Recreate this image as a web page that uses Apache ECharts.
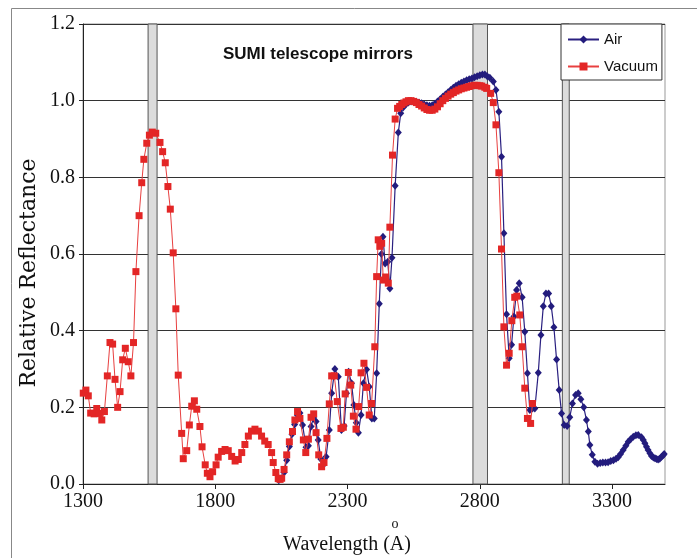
<!DOCTYPE html>
<html>
<head>
<meta charset="utf-8">
<script src="https://cdn.jsdelivr.net/npm/echarts@6/dist/echarts.min.js"></script>
<style>html,body{margin:0;padding:0;background:#fff;}#chart{width:697px;height:558px;}</style>
</head>
<body>
<div id="chart"></div>
<script>
// ---- data ----
var xTicks = [1300, 1800, 2300, 2800, 3300];
var yTicks = [0, 0.2, 0.4, 0.6, 0.8, 1.0, 1.2];
var bandStart = [1546, 2774, 3112];
var bandEnd = [1580, 2829, 3138];

var vacuumWave = [1301,1311,1320,1329,1342,1352,1362,1371,1381,1392,1402,1412,1421,1431,1440,1450,1460,1471,1481,1491,
1500,1512,1522,1530,1541,1551,1562,1575,1591,1601,1611,1621,1630,1641,1651,1660,1673,1679,1692,1702,1711,1721,1730,1742,1750,
1762,1770,1780,1790,1803,1811,1824,1837,1849,1862,1875,1887,1900,1912,1925,1937,1950,1963,1975,1987,2000,2013,2019,2029,2038,
2045,2051,2060,2070,2080,2092,2101,2111,2120,2133,2142,2152,2162,2172,2181,2191,2202,2211,2222,2231,2240,2250,2261,2275,2284,
2291,2303,2312,2322,2332,2342,2351,2362,2372,2382,2391,2403,2410,2416,2422,2429,2435,2444,2454,2460,2470,2480,2489,2497,2505,
2513,2521,2530,2540,2550,2560,2570,2580,2590,2600,2610,2620,2630,2640,2650,2660,2670,2680,2690,2700,2710,2720,2730,2740,2750,
2760,2770,2780,2790,2800,2807,2819,2826,2841,2851,2861,2872,2882,2891,2901,2911,2921,2932,2940,2951,2960,2970,2980,2992,2999];
var vacuumRefl = [0.237,0.245,0.23,0.185,0.183,0.197,0.184,0.167,0.189,0.282,0.369,0.365,0.273,0.2,0.241,0.324,0.354,0.319,0.282,0.369,
0.554,0.70,0.786,0.847,0.889,0.91,0.918,0.915,0.891,0.867,0.838,0.776,0.717,0.603,0.457,0.284,0.132,0.066,0.087,0.154,0.203,0.217,0.195,0.15,0.097,
0.05,0.028,0.019,0.032,0.05,0.07,0.085,0.09,0.087,0.072,0.06,0.064,0.082,0.103,0.125,0.138,0.143,0.138,0.125,0.112,0.103,0.082,0.056,0.03,0.014,
0.012,0.015,0.038,0.076,0.11,0.137,0.167,0.189,0.171,0.115,0.082,0.117,0.174,0.183,0.134,0.076,0.045,0.056,0.119,0.209,0.282,0.282,0.215,0.145,0.148,
0.235,0.291,0.258,0.177,0.143,0.202,0.29,0.315,0.252,0.18,0.21,0.358,0.541,0.637,0.62,0.628,0.532,0.54,0.524,0.67,0.858,0.952,0.98,0.985,0.99,
0.994,0.997,1.0,1.0,0.998,0.995,0.99,0.986,0.981,0.977,0.975,0.975,0.978,0.984,0.992,1.0,1.006,1.012,1.017,1.021,1.025,1.028,1.031,1.033,1.035,
1.037,1.039,1.04,1.04,1.039,1.038,1.035,1.032,1.019,0.995,0.937,0.812,0.613,0.41,0.31,0.341,0.426,0.487,0.49,0.441,0.358,0.25,0.171,0.158,0.21];

var airWave = [2040,2050,2060,2070,2080,2090,2100,2110,2120,2130,2143,2152,2162,2172,2181,2189,2199,2209,2219,2231,
2240,2252,2265,2277,2287,2296,2304,2315,2324,2333,2341,2351,2360,2372,2382,2392,2401,2410,2420,2428,2434,2442,2452,2460,2468,
2480,2492,2501,2510,2520,2530,2540,2550,2560,2570,2580,2590,2600,2610,2620,2630,2640,2650,2660,2670,2680,2690,2700,2710,2720,
2730,2740,2750,2760,2770,2780,2790,2800,2810,2819,2828,2838,2851,2861,2872,2882,2891,2901,2911,2920,2929,2939,2949,2960,2970,
2980,2989,2999,3008,3021,3031,3040,3050,3060,3070,3080,3090,3100,3109,3119,3130,3140,3150,3162,3172,3182,3193,3203,3210,3216,
3225,3235,3245,3255,3265,3275,3285,3295,3305,3315,3323,3332,3342,3352,3361,3370,3380,3390,3399,3411,3418,3424,3430,3436,3443,
3449,3456,3462,3468,3474,3480,3487,3493,3497];
var airRefl = [0.01,0.015,0.03,0.062,0.098,0.13,0.155,0.18,0.185,0.154,0.096,0.1,0.15,0.175,0.163,0.115,0.065,0.05,0.071,0.141,
0.237,0.30,0.28,0.141,0.151,0.237,0.293,0.263,0.206,0.16,0.134,0.18,0.263,0.299,0.254,0.171,0.171,0.289,0.47,0.60,0.645,0.575,0.58,0.51,0.59,
0.778,0.917,0.967,0.982,0.99,0.995,0.998,0.998,0.997,0.995,0.993,0.99,0.988,0.987,0.988,0.992,0.998,1.004,1.01,1.016,1.022,1.028,1.034,1.039,1.043,
1.047,1.05,1.053,1.056,1.058,1.061,1.064,1.066,1.068,1.068,1.064,1.06,1.05,1.028,0.971,0.854,0.654,0.443,0.328,0.363,0.437,0.506,0.524,0.487,0.397,
0.289,0.193,0.197,0.197,0.29,0.389,0.464,0.497,0.497,0.464,0.409,0.325,0.245,0.184,0.154,0.151,0.174,0.21,0.232,0.237,0.221,0.2,0.167,0.137,0.102,
0.076,0.058,0.053,0.055,0.056,0.056,0.057,0.06,0.062,0.066,0.07,0.078,0.089,0.1,0.11,0.117,0.123,0.127,0.128,0.122,0.115,0.106,0.097,0.089,0.08,
0.073,0.069,0.067,0.065,0.064,0.066,0.071,0.075,0.078];

function pairs(xs, ys) { return xs.map(function (x, i) { return [x, ys[i]]; }); }
var bands = bandStart.map(function (s, i) { return [{ xAxis: s, yAxis: 0 }, { xAxis: bandEnd[i], yAxis: 1.2 }]; });

var chart = echarts.init(document.getElementById('chart'), null, { renderer: 'canvas' });
var serif = '"Liberation Serif", "Times New Roman", serif';
var sans = '"Liberation Sans", Arial, sans-serif';
chart.setOption({
  animation: false,
  backgroundColor: '#fff',
  title: {
    text: 'SUMI telescope mirrors',
    left: 218, top: 41,
    textStyle: { fontFamily: sans, fontWeight: 'bold', fontSize: 17, color: '#111' }
  },
  legend: {
    orient: 'vertical', left: 561, top: 24,
    padding: [8, 4, 6, 6], itemGap: 12, itemWidth: 31, itemHeight: 10,
    backgroundColor: '#fff', borderColor: '#333', borderWidth: 1, borderRadius: 0,
    textStyle: { fontFamily: sans, fontSize: 15, color: '#111' },
    data: ['Air', 'Vacuum'], z: 20
  },
  grid: { left: 83, right: 32, top: 24, bottom: 74, show: true, borderColor: '#999', borderWidth: 1, backgroundColor: 'transparent' },
  xAxis: {
    type: 'value', min: 1300, max: 3500,
    axisLine: { show: true, lineStyle: { color: '#222', width: 1 } },
    axisTick: { show: true, length: 5, customValues: xTicks, lineStyle: { color: '#222' } },
    axisLabel: { customValues: xTicks, fontFamily: serif, fontSize: 20, color: '#111', margin: 8,
      formatter: function (v) { return String(Math.round(v)); } },
    splitLine: { show: false }
  },
  yAxis: {
    type: 'value', min: 0, max: 1.2,
    axisLine: { show: true, lineStyle: { color: '#222', width: 1 } },
    axisTick: { show: true, length: 4, customValues: yTicks, lineStyle: { color: '#222' } },
    axisLabel: { customValues: yTicks, fontFamily: serif, fontSize: 20, color: '#111', margin: 8,
      formatter: function (v) { return v.toFixed(1); } },
    splitLine: { show: true, lineStyle: { color: '#333', width: 1 } }
  },
  graphic: [
    { type: 'rect', shape: { x: 11.5, y: 8.5, width: 800, height: 700 }, style: { fill: 'none', stroke: '#888', lineWidth: 1 }, z: -10, silent: true },
    { type: 'text', x: 29, y: 273, rotation: Math.PI / 2,
      style: { text: 'Relative Reflectance', fontFamily: '"DejaVu Serif", serif', fontSize: 22, fill: '#111', align: 'center', verticalAlign: 'middle' } },
    { type: 'text', x: 347, y: 545,
      style: { text: 'Wavelength (A)', fontFamily: serif, fontSize: 20, fill: '#111', align: 'center', verticalAlign: 'middle' } },
    { type: 'text', x: 395, y: 524,
      style: { text: 'o', fontFamily: serif, fontSize: 14, fill: '#111', align: 'center', verticalAlign: 'middle' } }
  ],
  series: [
    { name: 'bands', type: 'line', data: [], z: -1, silent: true,
      markArea: { silent: true, itemStyle: { color: '#dcdcdc', borderColor: '#555', borderWidth: 1 }, data: bands } },
    { name: 'Air', type: 'line', data: pairs(airWave, airRefl), z: 3,
      symbol: 'diamond', symbolSize: [7, 8], showAllSymbol: true,
      lineStyle: { color: '#2a2080', width: 1.2 }, itemStyle: { color: '#231c7d' } },
    { name: 'Vacuum', type: 'line', data: pairs(vacuumWave, vacuumRefl), z: 4,
      symbol: 'rect', symbolSize: 7, showAllSymbol: true,
      lineStyle: { color: '#e84040', width: 1 }, itemStyle: { color: '#e32626' } }
  ]
});
</script>
</body>
</html>
